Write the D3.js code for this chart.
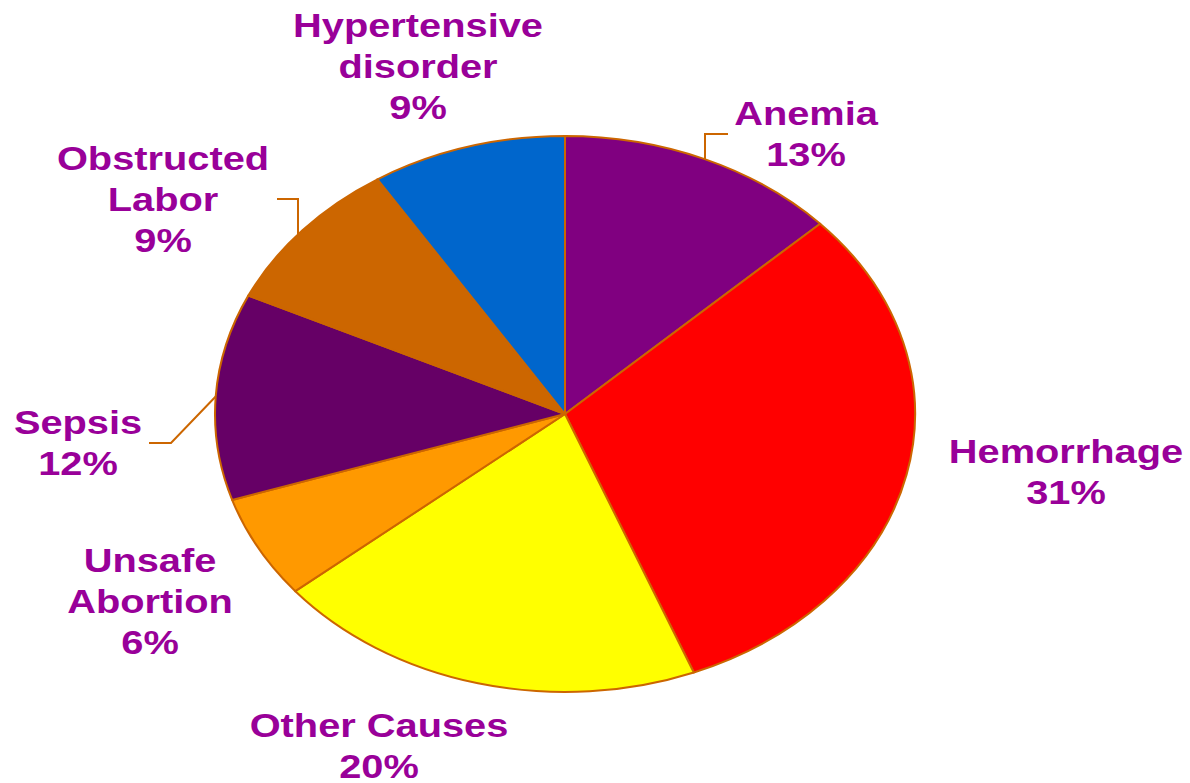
<!DOCTYPE html>
<html>
<head>
<meta charset="utf-8">
<script src="https://cdn.jsdelivr.net/npm/d3@7"></script>
<style>
  body { margin: 0; background: #fff; }
  svg { display: block; }
  .lbl { font-family: "Liberation Sans", Arial, sans-serif; font-weight: bold; font-size: 34px; fill: #990099; }
</style>
</head>
<body>
<div id="chart"></div>
<script>
// slice data, clockwise from 12 o'clock
var causes = ["Anemia", "Hemorrhage", "Other Causes", "Unsafe Abortion", "Sepsis", "Obstructed Labor", "Hypertensive disorder"];
var shares = [13, 31, 20, 6, 12, 9, 9];
var colors = ["#800080", "#FF0000", "#FFFF00", "#FF9900", "#660066", "#CC6600", "#0066CC"];
// label text lines per slice
var labelLines = [
	["Anemia", "13%"],
	["Hemorrhage", "31%"],
	["Other Causes", "20%"],
	["Unsafe", "Abortion", "6%"],
	["Sepsis", "12%"],
	["Obstructed", "Labor", "9%"],
	["Hypertensive", "disorder", "9%"]
];

var svgWidth = 1190;
var svgHeight = 783;
var cx = 565, cy = 414;
var rx = 350, ry = 278;   // pie is drawn squashed into an ellipse
var lineH = 41;
var stretch = 1.17;       // text is widened like the pie

// where each label block sits (center x, first baseline)
var labelPos = [
	[806, 125], [1066, 463], [379, 737], [150, 572], [78, 434], [163, 170], [418, 37]
];
// leader elbows for the labels that have one: [elbow, end], vertical = drop straight to the rim
var leaders = {
	0: {pts: [[705, 134], [728, 134]], vertical: true},
	5: {pts: [[298, 199], [277, 199]], vertical: true},
	4: {pts: [[171, 443], [149, 443]], vertical: false}
};

var svg = d3.select("#chart")
	.append("svg")
	.attr("width", svgWidth)
	.attr("height", svgHeight);

var pie = d3.pie().sort(null).value(function(d){ return d; });
var arcs = pie(shares);

var arc = d3.arc().innerRadius(0).outerRadius(rx);

var g = svg.append("g")
	.attr("transform", "translate(" + cx + "," + cy + ") scale(1," + (ry / rx) + ")");

g.selectAll("path")
	.data(arcs)
	.enter()
	.append("path")
	.attr("d", arc)
	.attr("fill", function(d, i){ return colors[i]; })
	.attr("stroke", "#CC6600")
	.attr("stroke-width", 2)
	.attr("stroke-linejoin", "round")
	.attr("vector-effect", "non-scaling-stroke");

// leader lines from the slice rim
arcs.forEach(function(d, i){
	var L = leaders[i];
	if (!L) return;
	var px, py;
	if (L.vertical) {
		px = L.pts[0][0];
		var dx = (px - cx) / rx;
		py = cy - ry * Math.sqrt(1 - dx * dx);
	} else {
		var a = (d.startAngle + d.endAngle) / 2;
		px = cx + rx * Math.sin(a);
		py = cy - ry * Math.cos(a);
	}
	var pts = [[px, py]].concat(L.pts);
	svg.append("path")
		.attr("d", d3.line()(pts))
		.attr("fill", "none")
		.attr("stroke", "#CC6600")
		.attr("stroke-width", 2);
});

// labels
labelLines.forEach(function(lines, i){
	var t = svg.append("g")
		.attr("transform", "translate(" + labelPos[i][0] + "," + labelPos[i][1] + ") scale(" + stretch + ",1)")
		.append("text")
		.attr("class", "lbl")
		.attr("text-anchor", "middle");
	lines.forEach(function(s, k){
		t.append("tspan")
			.attr("x", 0)
			.attr("y", k * lineH)
			.text(s);
	});
});
</script>
</body>
</html>
